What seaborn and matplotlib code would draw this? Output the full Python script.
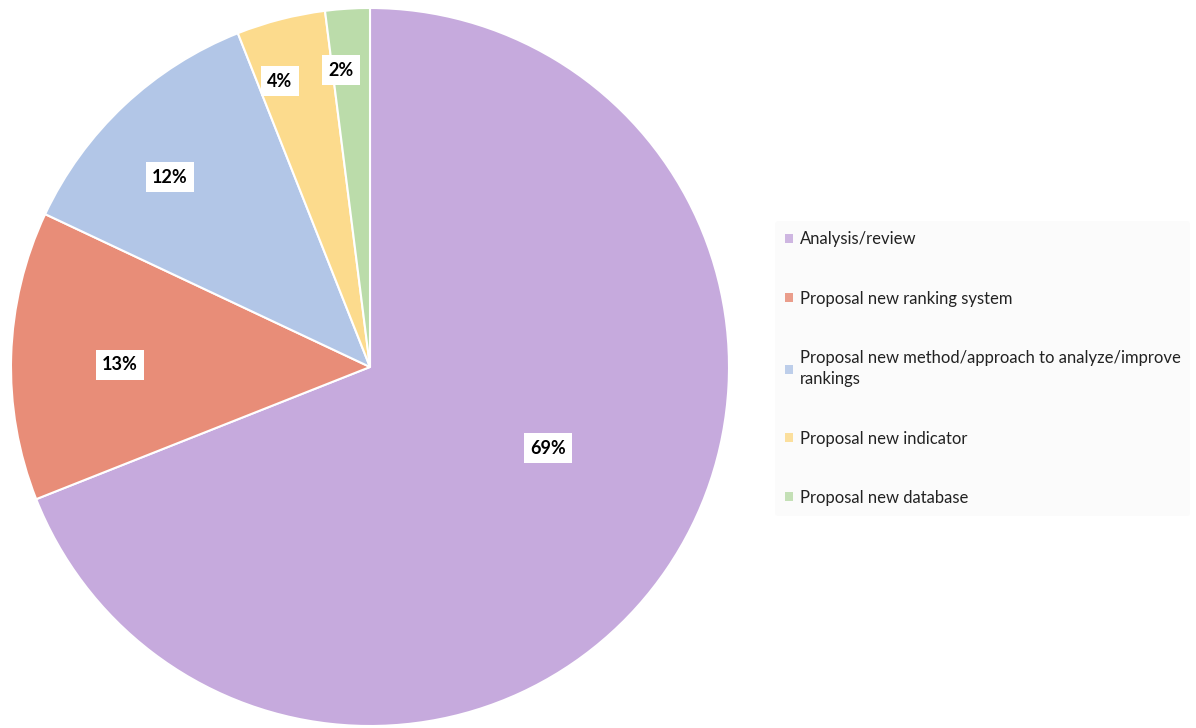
import matplotlib
matplotlib.use("Agg")
import matplotlib.pyplot as plt
import seaborn as sns
import numpy as np

categories = ["Analysis/review",
              "Proposal new ranking system",
              "Proposal new method/approach to analyze/improve\nrankings",
              "Proposal new indicator",
              "Proposal new database"]
values = [69, 13, 12, 4, 2]
pct_labels = ["69%", "13%", "12%", "4%", "2%"]
colors = ["#C6AADD", "#E88D78", "#B2C6E7", "#FCDB8D", "#BBDCAA"]
# label placement (radius fraction, angle in degrees) as in the original
label_radius = [0.545, 0.696, 0.768, 0.835, 0.831]
label_angle = [-24.5, 179.5, 136.5, 107.5, 95.6]

sns.set_theme(style="white")
plt.rcParams['font.family'] = ['Lato', 'DejaVu Sans']

W, H = 1196, 728
fig = plt.figure(figsize=(W / 100, H / 100), dpi=100)
cx, cy, r = 370, 367, 359
ax = fig.add_axes([(cx - r) / W, (H - cy - r) / H, 2 * r / W, 2 * r / H])

wedges, _ = ax.pie(values, colors=colors, startangle=90, counterclock=False,
                   radius=1.0, wedgeprops=dict(edgecolor="white", linewidth=1.5))
ax.set_xlim(-1, 1)
ax.set_ylim(-1, 1)
ax.set_aspect("equal")
ax.axis("off")

for lab, rr, a in zip(pct_labels, label_radius, label_angle):
    ang = np.deg2rad(a)
    ax.text(rr * np.cos(ang), rr * np.sin(ang), lab, ha="center", va="center",
            fontsize=13, fontweight="bold", color="black",
            bbox=dict(boxstyle="square,pad=0.35", facecolor="white", edgecolor="none"))

leg = fig.legend(wedges, categories, loc="upper left",
                 bbox_to_anchor=(767 / W, 1 - 213 / H),
                 frameon=True, facecolor="#FAFAFA", edgecolor="none",
                 fontsize=12.0, handlelength=0.45, handleheight=0.45,
                 handletextpad=0.4, labelspacing=2.6, borderpad=0.6)
for t in leg.get_texts():
    t.set_color("#222222")
    t.set_linespacing(1.4)
for h in leg.legend_handles:
    h.set_alpha(0.85)
    h.set_edgecolor("none")

fig.savefig("out.png", dpi=100, facecolor="white")
